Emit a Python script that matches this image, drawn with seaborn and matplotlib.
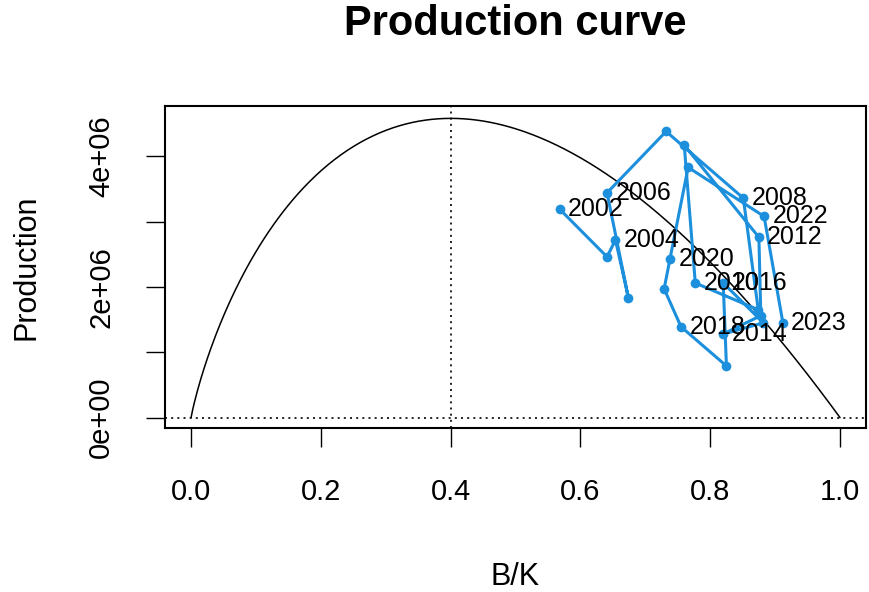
import numpy as np
import pandas as pd
import matplotlib
matplotlib.use("Agg")
import matplotlib.pyplot as plt
import seaborn as sns

# Biomass / carrying capacity and production by year
years = list(range(2002, 2024))
bk = [0.568, 0.641, 0.654, 0.674, 0.641, 0.732, 0.851, 0.874, 0.777, 0.760, 0.875,
      0.878, 0.820, 0.882, 0.820, 0.825, 0.755, 0.729, 0.738, 0.766, 0.883, 0.912]
production = [3.19e6, 2.46e6, 2.72e6, 1.83e6, 3.44e6, 4.38e6, 3.36e6, 1.65e6, 2.06e6,
              4.17e6, 2.76e6, 1.56e6, 1.28e6, 1.45e6, 2.06e6, 0.79e6, 1.39e6, 1.97e6,
              2.43e6, 3.83e6, 3.08e6, 1.45e6]
label_years = [2002, 2004, 2006, 2008, 2010, 2012, 2014, 2016, 2018, 2020, 2022, 2023]

# Production model (Pella-Tomlinson) parameters
msy = 4.58e6
bmsy_k = 0.4
shape_n = 1.19

df = pd.DataFrame({"year": years, "bk": bk, "production": production})

# model curve
x = np.linspace(0, 1, 400)
def pt(v):
    return v * (1 - v ** (shape_n - 1))
curve = pd.DataFrame({"bk": x, "production": msy * pt(x) / pt(bmsy_k)})

sns.set_style("white")
plt.rcParams["font.family"] = ["Liberation Sans", "DejaVu Sans"]
plt.rcParams["text.color"] = "black"
plt.rcParams["axes.labelcolor"] = "black"

fig = plt.figure(figsize=(8.69, 5.92), dpi=100)
ax = fig.add_axes([0.190, 0.277, 0.8065, 0.544])

sns.lineplot(data=curve, x="bk", y="production", color="black", linewidth=1.1, ax=ax)
ax.axvline(bmsy_k, color="black", linestyle=(0, (1.2, 2.5)), linewidth=1.2)
ax.axhline(0, color="black", linestyle=(0, (1.2, 2.5)), linewidth=1.2)

blue = "#1C8FDD"
sns.lineplot(data=df, x="bk", y="production", sort=False, estimator=None, color=blue,
             linewidth=2.2, marker="o", markersize=7, markeredgewidth=0, ax=ax)

for yr, xv, yv in zip(years, bk, production):
    if yr in label_years:
        ax.annotate(str(yr), (xv, yv), xytext=(6, 0), textcoords="offset points",
                    ha="left", va="center", fontsize=18, color="black")

ax.set_xlim(-0.04, 1.04)
ax.set_ylim(-0.16e6, 4.77e6)
ax.set_xticks([0.0, 0.2, 0.4, 0.6, 0.8, 1.0])
ax.set_xticklabels(["0.0", "0.2", "0.4", "0.6", "0.8", "1.0"])
ax.set_yticks([0, 1e6, 2e6, 3e6, 4e6])
ax.set_yticklabels(["0e+00", "", "2e+06", "", "4e+06"], rotation=90, va="center")
ax.tick_params(axis="both", which="major", direction="out", length=14, width=1.0,
               labelsize=21, colors="black", pad=22, bottom=True, left=True)

for s in ax.spines.values():
    s.set_color("black")
    s.set_linewidth(1.5)

ax.set_xlabel("B/K", fontsize=22, labelpad=40)
ax.set_ylabel("Production", fontsize=22)
ax.yaxis.set_label_coords(-0.176, 0.5)
fig.text(0.593, 0.96, "Production curve", fontsize=30, fontweight="bold",
         ha="center", va="center")

fig.savefig("out.png", dpi=100)
